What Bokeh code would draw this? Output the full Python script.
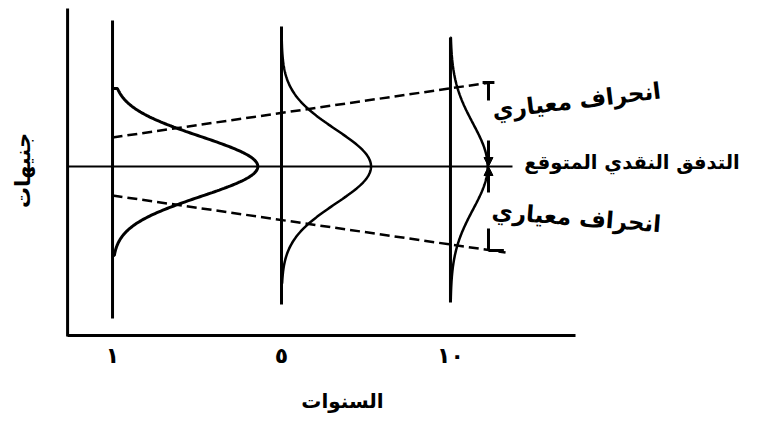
import numpy as np
from bokeh.plotting import figure
from bokeh.models import Range1d, Arrow, NormalHead
from bokeh.core.properties import value
from bokeh.embed import file_html
from bokeh.resources import INLINE

# ---- data ----
year_labels = ["١", "٥", "١٠"]          # tick labels (years 1, 5, 10)
year_pos = [0, 1, 2]                      # evenly spaced positions on the time axis
expected = 100                            # expected cash flow level
curve_peak = [0.86, 0.53, 0.22]           # horizontal size of each distribution (in year spacings)
curve_sigma = [30, 37, 43]                # spread of each distribution
curve_top = [78, 138, 129]                # extent of the curve above the expected flow
curve_bottom = [89, 117, 134]             # extent of the curve below the expected flow
line_top = [146, 140, 129]                # vertical year line extent above expected
line_bottom = [152, 138, 136]             # vertical year line extent below expected
sd_x = [0, 2.237, 2.326]                  # standard deviation band: start, upper end, lower end
sd_upper = [29, 84]                       # band half-width at start / end (upper)
sd_lower = [29, 86]                       # band half-width at start / end (lower)
axis_x0, axis_x1 = -0.266, 2.74           # horizontal axis span
axis_y0, axis_y1 = -69, 258               # vertical axis span
flow_end = 2.367                          # end of the expected-flow line
marker_x = 2.225                          # position of the standard deviation markers

FONT = value("DejaVu Sans")

p = figure(width=745, height=413, x_range=Range1d(-0.663, 3.746), y_range=Range1d(-147, 266),
           x_axis_type=None, y_axis_type=None, toolbar_location=None, output_backend="svg",
           min_border=0)
p.grid.visible = False
p.outline_line_color = None
p.background_fill_color = "white"

# axes
p.line([axis_x0, axis_x0], [axis_y1, axis_y0 - 1], line_width=3, color="black")
p.line([axis_x0, axis_x1], [axis_y0, axis_y0], line_width=3, color="black")

# expected flow line
p.line([axis_x0, flow_end], [expected, expected], line_width=2, color="black")

# vertical year lines and distributions
for i, xp in enumerate(year_pos):
    p.line([xp, xp], [expected + line_top[i], expected - line_bottom[i]], line_width=3, color="black")
    d = np.linspace(curve_top[i], -curve_bottom[i], 200)
    xs = xp + curve_peak[i] * np.exp(-d ** 2 / (2 * curve_sigma[i] ** 2))
    xs = np.concatenate([[xp], xs, [xp]])
    ys = np.concatenate([[expected + curve_top[i]], expected + d, [expected - curve_bottom[i]]])
    p.line(xs, ys, line_width=3 if i == 0 else 2.5, color="black")

# standard deviation band (dashed)
p.line([sd_x[0], sd_x[1]], [expected + sd_upper[0], expected + sd_upper[1]],
       line_width=2.5, line_dash="10 5", color="black")
p.line([sd_x[0], sd_x[2]], [expected - sd_lower[0], expected - sd_lower[1]],
       line_width=2.5, line_dash="10 5", color="black")

# markers
top_y = expected + sd_upper[1]
bot_y = expected - sd_lower[1] + 2
p.line([marker_x, marker_x], [top_y, top_y - 18], line_width=3, color="black")
p.line([marker_x - 0.035, marker_x + 0.035], [top_y, top_y], line_width=3, color="black")
p.line([marker_x, marker_x], [bot_y, bot_y + 22], line_width=3, color="black")
p.line([marker_x, sd_x[2] - 0.01], [bot_y, bot_y], line_width=3, color="black")
p.add_layout(Arrow(end=NormalHead(size=9, fill_color="black", line_color="black"),
                   x_start=marker_x, y_start=expected + 26, x_end=marker_x, y_end=expected,
                   line_width=3))
p.add_layout(Arrow(end=NormalHead(size=9, fill_color="black", line_color="black"),
                   x_start=marker_x, y_start=expected - 26, x_end=marker_x, y_end=expected,
                   line_width=3))

# tick labels
p.text(x=year_pos, y=[-89] * 3, text=year_labels, text_font=FONT, text_font_size="22px",
       text_font_style="bold", text_align="center", text_baseline="middle", text_color="black")

# axis titles
p.text(x=[1.361], y=[-134], text=["السنوات"], text_font=FONT, text_font_size="20px",
       text_font_style="bold", text_align="center", text_baseline="middle", text_color="black")
p.text(x=[-0.532], y=[96], text=["جنيهات"], angle=np.pi / 2, text_font=FONT, text_font_size="21px",
       text_font_style="bold", text_align="center", text_baseline="middle", text_color="black")

# annotation labels
p.text(x=[3.074], y=[104], text=["التدفق النقدي المتوقع"], text_font=FONT, text_font_size="19.5px",
       text_font_style="bold", text_align="center", text_baseline="middle", text_color="black")
p.text(x=[2.746], y=[166], text=["انحراف معياري"], angle=0.12, text_font=FONT, text_font_size="23px",
       text_font_style="bold", text_align="center", text_baseline="middle", text_color="black")
p.text(x=[2.746], y=[49], text=["انحراف معياري"], angle=-0.08, text_font=FONT, text_font_size="23px",
       text_font_style="bold", text_align="center", text_baseline="middle", text_color="black")

open("out.html", "w").write(file_html(p, INLINE))
